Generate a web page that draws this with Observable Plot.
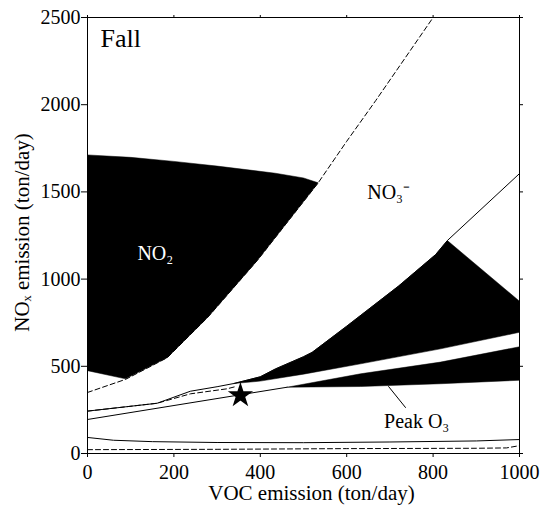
<!DOCTYPE html>
<html>
<head>
<meta charset="utf-8">
<script src="https://cdn.jsdelivr.net/npm/d3@7"></script>
<script src="https://cdn.jsdelivr.net/npm/@observablehq/plot@0.6"></script>
<style>
  html, body { margin: 0; padding: 0; background: white; }
</style>
</head>
<body>
<div id="chart"></div>
<script>
// Axis ticks
const xTicks = [0, 200, 400, 600, 800, 1000];
const yTicks = [0, 500, 1000, 1500, 2000, 2500];

// NO2-sensitive black region (polygon vertices, VOC / NOx in ton/day)
const no2X = [0, 100, 200, 300, 435, 500, 534, 393, 278, 185, 88, 0];
const no2Y = [1712, 1698, 1675, 1648, 1607, 1580, 1552, 1107, 780, 550, 428, 475];

// Upper black wedge (NO3- sensitive)
const wedgeX = [338, 400, 435, 500, 520, 600, 720, 806, 833, 1000, 1000, 817, 632, 500, 400, 338];
const wedgeY = [401, 440, 485, 555, 580, 730, 960, 1141, 1221, 873, 695, 600, 514, 455, 415, 401];

// Lower black band
const bandX = [462, 632, 817, 1000, 1000, 817, 632, 462];
const bandY = [380, 457, 524, 612, 420, 400, 384, 380];

// Isolines
const dashAX = [0, 88, 185, 278, 393, 534, 600, 667, 800];
const dashAY = [350, 425, 550, 780, 1107, 1552, 1790, 2023, 2500];
const dashBX = [0, 161, 238, 323, 345];
const dashBY = [243, 288, 342, 371, 385];
const solidCX = [0, 161, 238, 300, 338, 400, 435, 500, 520, 600, 720, 806, 833, 1000];
const solidCY = [243, 288, 357, 383, 401, 440, 485, 555, 580, 730, 960, 1141, 1221, 1605];
const solidDX = [0, 462];
const solidDY = [195, 380];
const lowSolidX = [0, 60, 150, 300, 500, 700, 900, 1000];
const lowSolidY = [92, 76, 68, 63, 62, 66, 72, 80];
const lowDashX = [0, 300, 600, 900, 970, 1000];
const lowDashY = [22, 24, 28, 30, 32, 45];

// Base case (star)
const starX = [354];
const starY = [333];

// Peak O3 leader
const leaderX = [697, 736];
const leaderY = [384, 264];

const pts = (xs, ys) => xs.map((x, i) => ({x, y: ys[i]}));
const serif = "'Liberation Serif', 'Times New Roman', serif";

const chart = Plot.plot({
  width: 550,
  height: 508,
  marginLeft: 87,
  marginRight: 31,
  marginTop: 17,
  marginBottom: 55,
  x: {domain: [0, 1000]},
  y: {domain: [0, 2500]},
  style: {fontFamily: serif, fontSize: "20px", color: "black", background: "white"},
  marks: [
    Plot.line(pts(no2X, no2Y), {x: "x", y: "y", fill: "black", stroke: "black", strokeWidth: 0.5}),
    Plot.line(pts(wedgeX, wedgeY), {x: "x", y: "y", fill: "black", stroke: "black", strokeWidth: 0.5}),
    Plot.line(pts(bandX, bandY), {x: "x", y: "y", fill: "black", stroke: "black", strokeWidth: 0.5}),
    Plot.line(pts(dashAX, dashAY), {x: "x", y: "y", stroke: "black", strokeWidth: 1, strokeDasharray: "5,3"}),
    Plot.line(pts(dashBX, dashBY), {x: "x", y: "y", stroke: "black", strokeWidth: 1, strokeDasharray: "5,3"}),
    Plot.line(pts(solidCX, solidCY), {x: "x", y: "y", stroke: "black", strokeWidth: 1}),
    Plot.line(pts(solidDX, solidDY), {x: "x", y: "y", stroke: "black", strokeWidth: 1}),
    Plot.line(pts(lowSolidX, lowSolidY), {x: "x", y: "y", stroke: "black", strokeWidth: 1}),
    Plot.line(pts(lowDashX, lowDashY), {x: "x", y: "y", stroke: "black", strokeWidth: 1, strokeDasharray: "5,3"}),
    Plot.line(pts(leaderX, leaderY), {x: "x", y: "y", stroke: "black", strokeWidth: 1}),
    Plot.dot(pts(starX, starY), {x: "x", y: "y", symbol: "star", r: 6.5, fill: "black", stroke: "black"}),
    Plot.text([{x: 157, y: 1147, t: "NO₂"}], {x: "x", y: "y", text: "t", fill: "white", fontSize: 20, fontFamily: serif}),
    Plot.text([{x: 697, y: 1497, t: "NO₃⁻"}], {x: "x", y: "y", text: "t", fill: "black", fontSize: 20, fontFamily: serif}),
    Plot.text([{x: 762, y: 183, t: "Peak O₃"}], {x: "x", y: "y", text: "t", fill: "black", fontSize: 20, fontFamily: serif}),
    Plot.text([{x: 30, y: 2380, t: "Fall"}], {x: "x", y: "y", text: "t", fill: "black", fontSize: 26, textAnchor: "start", fontFamily: serif}),
    Plot.frame({stroke: "black", strokeWidth: 1}),
    Plot.axisX({ticks: xTicks, tickSize: 4, tickPadding: 7, label: null, fontSize: 20, fontFamily: serif, tickFormat: d => String(d)}),
    Plot.axisX({anchor: "top", ticks: xTicks, tickSize: 3, tickFormat: () => "", label: null}),
    Plot.axisY({ticks: yTicks, tickSize: 6, tickPadding: 1, label: null, fontSize: 20, fontFamily: serif, tickFormat: d => String(d)}),
    Plot.axisY({anchor: "right", ticks: yTicks, tickSize: 3, tickFormat: () => "", label: null}),
    Plot.text(["VOC emission (ton/day)"], {frameAnchor: "bottom", lineAnchor: "middle", textAnchor: "middle", dy: 40, dx: 8, text: d => d, fontSize: 21, fontFamily: serif}),
    Plot.text(["NOₓ emission (ton/day)"], {frameAnchor: "left", lineAnchor: "middle", textAnchor: "middle", dx: -65, dy: -3, rotate: -90, text: d => d, fontSize: 21, fontFamily: serif})
  ]
});
document.getElementById("chart").appendChild(chart);
</script>
</body>
</html>
